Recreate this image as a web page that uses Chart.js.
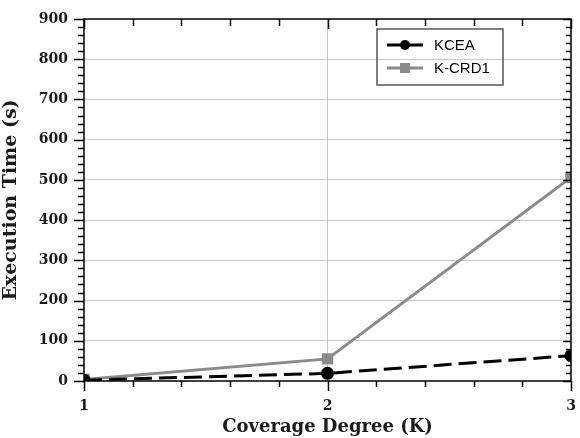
<!DOCTYPE html>
<html>
<head>
<meta charset="utf-8">
<script src="https://cdn.jsdelivr.net/npm/chart.js@4/dist/chart.umd.min.js"></script>
<style>
  html, body { margin: 0; padding: 0; background: #fff; }
  #wrap { width: 580px; height: 438px; }
</style>
</head>
<body>
<div id="wrap"><canvas id="grafico"></canvas></div>
<script>
// datos
const coverage = [1, 2, 3];
const kcea = [2, 19, 63];
const kcrd1 = [4, 55, 506];
const xTicks = [1, 2, 3];
const yTicks = [0, 100, 200, 300, 400, 500, 600, 700, 800, 900];

const serif = "'DejaVu Serif', 'Liberation Serif', serif";
const sans = "'Liberation Sans', Arial, sans-serif";

// ejes con ticks menores en los cuatro lados + caja
const ejes = {
  id: 'ejes',
  afterDatasetsDraw(chart) {
    const { ctx, chartArea: a, scales: { x, y } } = chart;
    ctx.save();
    ctx.strokeStyle = '#000';
    ctx.lineWidth = 1.5;
    ctx.beginPath();
    // eje x: cada 0.2
    for (let i = 0; i <= 10; i++) {
      const v = xTicks[0] + i * 0.2;
      const px = Math.round(x.getPixelForValue(v)) + 0.5;
      const major = i % 5 === 0;
      ctx.moveTo(px, a.bottom); ctx.lineTo(px, a.bottom + (major ? 10 : 6));
      ctx.moveTo(px, a.top); ctx.lineTo(px, a.top + (major ? 10 : 7));
    }
    // eje y: cada 20
    for (let i = 0; i <= 45; i++) {
      const v = i * 20;
      const py = Math.round(y.getPixelForValue(v)) + 0.5;
      const major = i % 5 === 0;
      ctx.moveTo(a.left, py); ctx.lineTo(a.left - (major ? 10 : 6), py);
      ctx.moveTo(a.right, py); ctx.lineTo(a.right - (major ? 8 : 5), py);
    }
    ctx.stroke();
    ctx.strokeRect(a.left, a.top, a.right - a.left, a.bottom - a.top);

    // leyenda
    const bx = a.left + 293, by = a.top + 10, bw = 126, bh = 56;
    ctx.lineWidth = 1.5;
    ctx.strokeStyle = '#555';
    ctx.strokeRect(bx, by, bw, bh);
    chart.data.datasets.forEach((ds, i) => {
      const cy = by + 16 + i * 23;
      ctx.strokeStyle = ds.borderColor;
      ctx.lineWidth = 3;
      ctx.setLineDash([]);
      ctx.beginPath();
      ctx.moveTo(bx + 10, cy); ctx.lineTo(bx + 46, cy);
      ctx.stroke();
      ctx.fillStyle = ds.pointBackgroundColor;
      if (ds.pointStyle === 'rect') {
        ctx.fillRect(bx + 23, cy - 5, 10, 10);
      } else {
        ctx.beginPath();
        ctx.arc(bx + 28, cy, 5, 0, Math.PI * 2);
        ctx.fill();
      }
      ctx.fillStyle = '#000';
      ctx.font = '15px ' + sans;
      ctx.textBaseline = 'middle';
      ctx.fillText(ds.label, bx + 57, cy + 1);
    });
    ctx.restore();
  }
};

new Chart(document.getElementById('grafico').getContext('2d'), {
  type: 'line',
  data: {
    datasets: [
      {
        label: 'KCEA',
        data: coverage.map((c, i) => ({ x: c, y: kcea[i] })),
        borderColor: '#000',
        backgroundColor: '#000',
        pointBackgroundColor: '#000',
        pointBorderColor: '#000',
        borderWidth: 3,
        borderDash: [18, 7],
        pointStyle: 'circle',
        pointRadius: 5,
        clip: 0
      },
      {
        label: 'K-CRD1',
        data: coverage.map((c, i) => ({ x: c, y: kcrd1[i] })),
        borderColor: '#8a8a8a',
        backgroundColor: '#8a8a8a',
        pointBackgroundColor: '#8a8a8a',
        pointBorderColor: '#8a8a8a',
        borderWidth: 3,
        pointStyle: 'rect',
        pointRadius: 6,
        clip: 0
      }
    ]
  },
  options: {
    responsive: true,
    maintainAspectRatio: false,
    animation: false,
    layout: { padding: { top: 19, right: 7, left: 0, bottom: 0 } },
    plugins: {
      legend: { display: false },
      tooltip: { enabled: false }
    },
    scales: {
      x: {
        type: 'linear',
        min: 1,
        max: 3,
        border: { display: false },
        grid: {
          drawTicks: false,
          color: ctx => (ctx.tick && ctx.tick.value === 2) ? '#c8c8c8' : 'rgba(0,0,0,0)',
          lineWidth: 1
        },
        afterBuildTicks: scale => { scale.ticks = xTicks.map(v => ({ value: v })); },
        ticks: {
          padding: 17,
          maxRotation: 0,
          color: '#1a1a1a',
          font: { family: serif, size: 14, weight: 'bold' },
          callback: v => String(v)
        },
        title: {
          display: true,
          text: 'Coverage Degree (K)',
          color: '#1a1a1a',
          font: { family: serif, size: 18, weight: 'bold' },
          padding: { top: 4, bottom: 0 }
        },
        afterFit: scale => {
          scale.height = 57;
          scale.paddingLeft = 0;
          scale.paddingRight = 0;
        }
      },
      y: {
        min: 0,
        max: 900,
        border: { display: false },
        grid: {
          drawTicks: false,
          color: ctx => (ctx.tick && ctx.tick.value > 0 && ctx.tick.value < 900) ? '#c8c8c8' : 'rgba(0,0,0,0)',
          lineWidth: 1
        },
        afterBuildTicks: scale => { scale.ticks = yTicks.map(v => ({ value: v })); },
        ticks: {
          padding: 16,
          color: '#1a1a1a',
          font: { family: serif, size: 14, weight: 'bold' }
        },
        title: {
          display: true,
          text: 'Execution Time (s)',
          color: '#1a1a1a',
          font: { family: serif, size: 19, weight: 'bold' },
          padding: { top: 0, bottom: 5 }
        },
        afterFit: scale => {
          scale.width = 84;
          scale.paddingTop = 0;
          scale.paddingBottom = 0;
        }
      }
    }
  },
  plugins: [ejes]
});
</script>
</body>
</html>
